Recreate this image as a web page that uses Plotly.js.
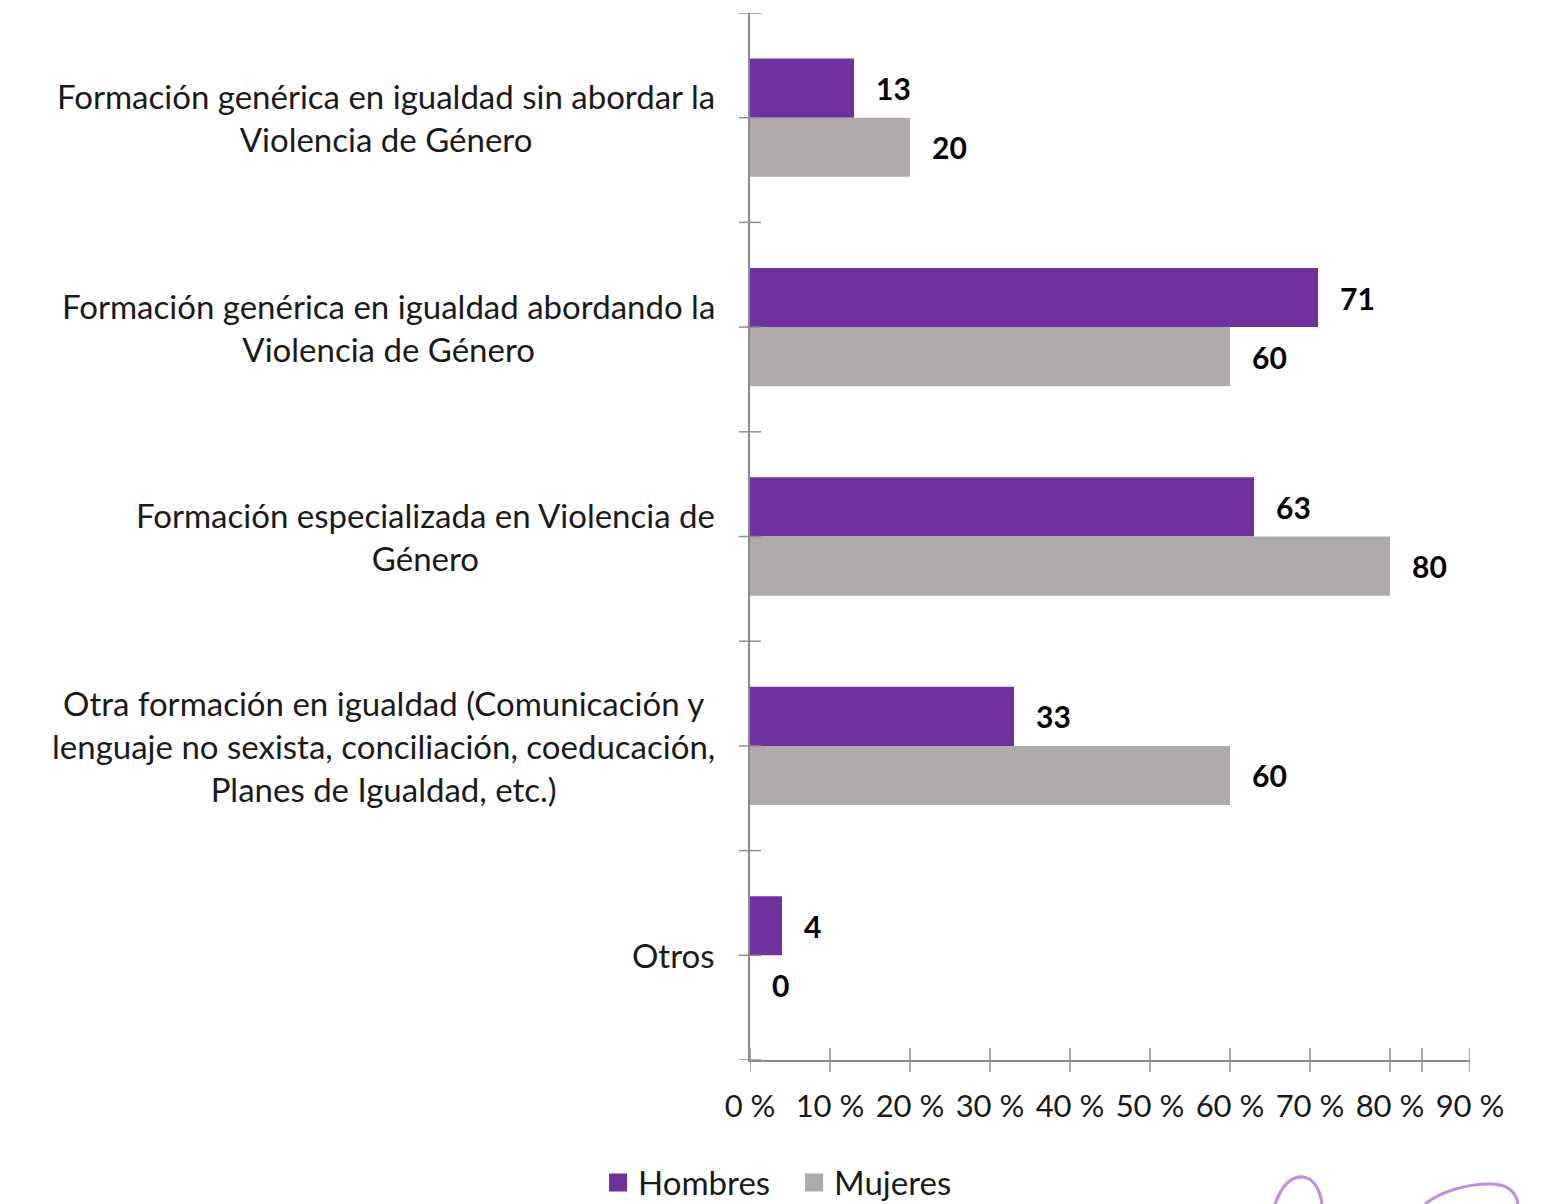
<!DOCTYPE html>
<html>
<head>
<meta charset="utf-8">
<script src="https://cdn.plot.ly/plotly-3.0.1.min.js"></script>
<style>html,body{margin:0;padding:0;background:#fff;}#chart{width:1549px;height:1204px;}</style>
</head>
<body>
<div id="chart"></div>
<script>
// ---- Data ----
const categories = [
  "Formación genérica en igualdad sin abordar la<br>Violencia de Género",
  "Formación genérica en igualdad abordando la<br>Violencia de Género",
  "Formación especializada en Violencia de<br>Género",
  "Otra formación en igualdad (Comunicación y<br>lenguaje no sexista, conciliación, coeducación,<br>Planes de Igualdad, etc.)",
  "Otros"
];
const hombres = [13, 71, 63, 33, 4];
const mujeres = [20, 60, 80, 60, 0];
const seriesNames = ["Hombres", "Mujeres"];
const xTickVals = [0, 10, 20, 30, 40, 50, 60, 70, 80, 90];
const xTickText = ["0 %", "10 %", "20 %", "30 %", "40 %", "50 %", "60 %", "70 %", "80 %", "90 %"];
const xTickMarks = [0, 10, 20, 30, 40, 50, 60, 70, 80, 84, 90];

// ---- Styles ----
const FONT = "Lato, 'Open Sans', sans-serif";
const PURPLE = "#7030A0";
const GREY = "#AEAAAA";
const AXIS = "#8C8C8C";
const TEXT = "#1a1a1a";
const LOGO = "#BE8EE0";
const BARGAP = 0.435;
const half = (1 - BARGAP) / 4;

const idx = categories.map((c, i) => i);
const colors = [PURPLE, GREY];

const traces = [
  {type: "bar", orientation: "h", name: seriesNames[0], y: idx, x: hombres,
   marker: {color: PURPLE}, hoverinfo: "x+name", showlegend: false},
  {type: "bar", orientation: "h", name: seriesNames[1], y: idx, x: mujeres,
   marker: {color: GREY}, hoverinfo: "x+name", showlegend: false}
];
// legend-only entries with larger square swatches
seriesNames.forEach((n, k) => {
  traces.push({type: "scatter", mode: "markers", name: n, x: [null], y: [null],
    marker: {symbol: "square", size: 16, color: colors[k], line: {color: colors[k], width: 2}},
    showlegend: true, hoverinfo: "skip"});
});

const annotations = [];
categories.forEach((c, i) => {
  annotations.push({
    xref: "paper", yref: "y", x: 0, y: i, xanchor: "right", yanchor: "middle",
    xshift: -33, text: c, align: "center", showarrow: false,
    font: {family: FONT, size: 33, color: TEXT}
  });
});
hombres.forEach((v, i) => {
  annotations.push({xref: "x", yref: "y", x: v, y: i - half, xanchor: "left", yanchor: "middle",
    xshift: 20, text: String(v), showarrow: false,
    font: {family: FONT, size: 30, color: "#000", weight: "bold"}});
});
mujeres.forEach((v, i) => {
  annotations.push({xref: "x", yref: "y", x: v, y: i + half, xanchor: "left", yanchor: "middle",
    xshift: 20, text: String(v), showarrow: false,
    font: {family: FONT, size: 30, color: "#000", weight: "bold"}});
});

const shapes = [];
// x-axis crossing tick marks
xTickMarks.forEach(v => {
  shapes.push({type: "line", xref: "x", yref: "paper", ysizemode: "pixel", yanchor: 0,
    x0: v, x1: v, y0: -12, y1: 12, line: {color: AXIS, width: 1.5}});
});
// y-axis crossing tick marks at category centers and boundaries
for (let k = 0; k <= categories.length * 2; k++) {
  const yv = -0.5 + k * 0.5;
  shapes.push({type: "line", xref: "paper", yref: "y", xsizemode: "pixel", xanchor: 0,
    x0: -11, x1: 11, y0: yv, y1: yv, line: {color: AXIS, width: 1.5}});
}
// decorative logo fragment (bottom right)
shapes.push({type: "path", xref: "paper", yref: "paper", layer: "above",
  path: "M0.7292,-0.1375 C0.7389,-0.1194 0.7528,-0.1108 0.7681,-0.1117 C0.7833,-0.1127 0.7917,-0.1242 0.7944,-0.1375",
  line: {color: LOGO, width: 3}});
shapes.push({type: "path", xref: "paper", yref: "paper", layer: "above",
  path: "M0.9375,-0.1375 C0.9583,-0.1261 0.9931,-0.1184 1.0278,-0.1184 C1.0528,-0.1184 1.0639,-0.1261 1.0667,-0.1375",
  line: {color: LOGO, width: 3}});

const layout = {
  width: 1549, height: 1204,
  margin: {l: 750, r: 79, t: 13, b: 144, autoexpand: false},
  paper_bgcolor: "#fff", plot_bgcolor: "#fff",
  barmode: "group", bargap: BARGAP, bargroupgap: 0,
  font: {family: FONT, size: 30, color: TEXT},
  xaxis: {range: [0, 90], tickmode: "array", tickvals: xTickVals, ticktext: xTickText, ticks: "",
    showgrid: false, zeroline: false, showline: true, linecolor: AXIS, linewidth: 1.5,
    tickfont: {family: FONT, size: 31, color: TEXT}, ticklabelstandoff: 18, fixedrange: true},
  yaxis: {range: [categories.length - 0.5, -0.5], showticklabels: false, ticks: "",
    showgrid: false, zeroline: false, showline: true, linecolor: AXIS, linewidth: 1.5, fixedrange: true},
  showlegend: true,
  legend: {orientation: "h", x: -0.211, xanchor: "left", y: -0.117, yanchor: "middle",
    font: {family: FONT, size: 33, color: TEXT}, itemsizing: "trace", traceorder: "normal",
    entrywidth: 151, entrywidthmode: "pixels"},
  annotations: annotations,
  shapes: shapes
};

Plotly.newPlot("chart", traces, layout, {displayModeBar: false, responsive: false});
</script>
</body>
</html>
